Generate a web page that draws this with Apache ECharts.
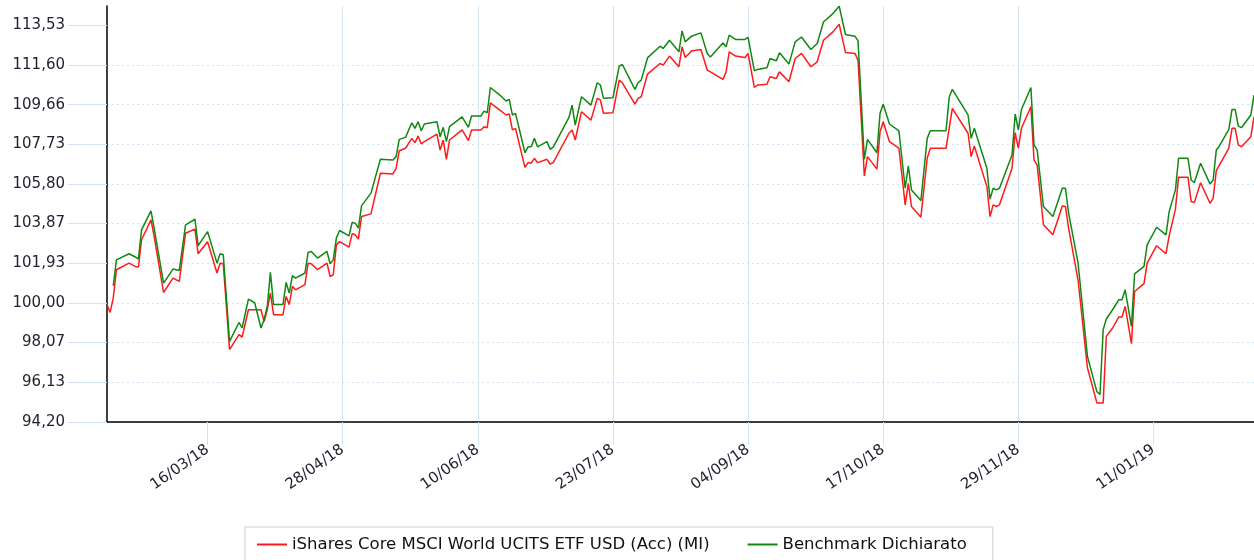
<!DOCTYPE html>
<html>
<head>
<meta charset="utf-8">
<script src="https://cdn.jsdelivr.net/npm/echarts@6/dist/echarts.min.js"></script>
<style>
  html, body { margin: 0; padding: 0; background: #fff; }
  #chart { width: 1254px; height: 560px; }
</style>
</head>
<body>
<div id="chart"></div>
<script>
// iShares Core MSCI World vs benchmark, base 100
const DATES = [
  '2018-02-12','2018-02-13','2018-02-14','2018-02-15','2018-02-19','2018-02-21','2018-02-22','2018-02-23',
  '2018-02-26','2018-02-27','2018-03-02','2018-03-05','2018-03-07','2018-03-09','2018-03-12','2018-03-13',
  '2018-03-16','2018-03-19','2018-03-20','2018-03-21','2018-03-23','2018-03-26','2018-03-27','2018-03-29',
  '2018-03-31','2018-04-02','2018-04-03','2018-04-04','2018-04-05','2018-04-06','2018-04-09','2018-04-10',
  '2018-04-11','2018-04-12','2018-04-13','2018-04-16','2018-04-17','2018-04-18','2018-04-20','2018-04-23',
  '2018-04-24','2018-04-25','2018-04-26','2018-04-27','2018-04-30','2018-05-01','2018-05-02','2018-05-03',
  '2018-05-04','2018-05-07','2018-05-10','2018-05-14','2018-05-15','2018-05-16','2018-05-18','2018-05-20',
  '2018-05-21','2018-05-22','2018-05-23','2018-05-24','2018-05-28','2018-05-29','2018-05-30','2018-05-31',
  '2018-06-01','2018-06-05','2018-06-07','2018-06-08','2018-06-11','2018-06-12','2018-06-13','2018-06-14',
  '2018-06-17','2018-06-19','2018-06-20','2018-06-21','2018-06-22','2018-06-25','2018-06-26','2018-06-27',
  '2018-06-28','2018-06-29','2018-07-02','2018-07-03','2018-07-04','2018-07-09','2018-07-10','2018-07-11',
  '2018-07-13','2018-07-16','2018-07-18','2018-07-19','2018-07-20','2018-07-23','2018-07-25','2018-07-26',
  '2018-07-30','2018-07-31','2018-08-01','2018-08-03','2018-08-07','2018-08-08','2018-08-10','2018-08-13',
  '2018-08-14','2018-08-15','2018-08-17','2018-08-20','2018-08-22','2018-08-23','2018-08-27','2018-08-28',
  '2018-08-29','2018-08-31','2018-09-03','2018-09-04','2018-09-06','2018-09-07','2018-09-10','2018-09-11',
  '2018-09-13','2018-09-14','2018-09-17','2018-09-19','2018-09-21','2018-09-24','2018-09-26','2018-09-28',
  '2018-10-01','2018-10-03','2018-10-05','2018-10-08','2018-10-09','2018-10-11','2018-10-12','2018-10-15',
  '2018-10-16','2018-10-17','2018-10-19','2018-10-22','2018-10-24','2018-10-25','2018-10-26','2018-10-29',
  '2018-10-31','2018-11-01','2018-11-06','2018-11-07','2018-11-08','2018-11-13','2018-11-14','2018-11-15',
  '2018-11-19','2018-11-20','2018-11-21','2018-11-22','2018-11-23','2018-11-27','2018-11-28','2018-11-29',
  '2018-11-30','2018-12-03','2018-12-04','2018-12-05','2018-12-07','2018-12-10','2018-12-13','2018-12-14',
  '2018-12-15','2018-12-18','2018-12-21','2018-12-24','2018-12-25','2018-12-26','2018-12-27','2018-12-29',
  '2018-12-31','2019-01-01','2019-01-02','2019-01-04','2019-01-05','2019-01-08','2019-01-09','2019-01-12',
  '2019-01-15','2019-01-16','2019-01-18','2019-01-19','2019-01-22','2019-01-23','2019-01-24','2019-01-26',
  '2019-01-29','2019-01-30','2019-01-31','2019-02-01','2019-02-04','2019-02-05','2019-02-06','2019-02-07',
  '2019-02-08','2019-02-11','2019-02-12'
];

const FUND = [
  99.92, 99.54, 100.26, 101.62, 101.94, 101.78, 101.75, 103.08,
  104.05, 103.24, 100.51, 101.21, 101.05, 103.40, 103.60, 102.40,
  102.98, 101.46, 101.94, 101.91, 97.73, 98.46, 98.34, 99.67,
  99.67, 99.67, 99.10, 99.67, 100.48, 99.43, 99.43, 100.32,
  99.92, 100.81, 100.64, 100.89, 101.94, 101.91, 101.62, 101.94,
  101.29, 101.37, 102.83, 102.99, 102.72, 103.37, 103.32, 103.11,
  104.21, 104.34, 106.32, 106.29, 106.56, 107.42, 107.54, 108.02,
  107.81, 108.13, 107.75, 107.86, 108.23, 107.45, 107.94, 107.00,
  107.94, 108.43, 107.91, 108.43, 108.43, 108.59, 108.54, 109.75,
  109.40, 109.16, 109.21, 108.43, 108.51, 106.61, 106.84, 106.81,
  107.05, 106.84, 107.00, 106.77, 106.84, 108.27, 108.43, 107.94,
  109.32, 108.91, 109.97, 109.89, 109.24, 109.27, 110.86, 110.73,
  109.69, 109.97, 110.05, 111.15, 111.67, 111.59, 112.03, 111.51,
  112.48, 111.96, 112.28, 112.35, 111.35, 111.26, 110.89, 111.25,
  112.24, 112.03, 111.96, 112.16, 110.50, 110.62, 110.66, 111.02,
  110.94, 111.26, 110.78, 111.91, 112.16, 111.51, 111.75, 112.80,
  113.21, 113.58, 112.21, 112.16, 111.83, 106.19, 107.13, 106.52,
  108.34, 108.83, 107.86, 107.54, 104.78, 105.83, 104.70, 104.18,
  107.05, 107.54, 107.54, 108.51, 109.48, 108.27, 107.13, 107.65,
  105.67, 104.21, 104.78, 104.70, 104.78, 106.56, 108.30, 107.54,
  108.51, 109.56, 106.97, 106.72, 103.81, 103.32, 104.73, 104.70,
  103.65, 101.13, 96.84, 95.13, 95.13, 95.13, 98.37, 98.78,
  99.32, 99.32, 99.83, 98.02, 100.56, 100.94, 101.94, 102.79,
  102.40, 103.27, 104.57, 106.13, 106.13, 104.94, 104.89, 105.86,
  104.86, 105.10, 106.45, 106.72, 107.54, 108.51, 108.51, 107.70,
  107.61, 108.10, 109.07
];

const BENCH = [
  null, null, 100.84, 102.10, 102.40, 102.24, 102.14, 103.56,
  104.49, 103.65, 100.97, 101.65, 101.58, 103.81, 104.08, 102.79,
  103.48, 101.94, 102.40, 102.35, 98.13, 99.05, 98.78, 100.19,
  100.01, 98.78, 99.20, 99.83, 101.49, 99.92, 99.92, 101.00,
  100.48, 101.33, 101.21, 101.46, 102.46, 102.51, 102.19, 102.51,
  101.91, 102.10, 103.17, 103.53, 103.27, 103.92, 103.89, 103.65,
  104.73, 105.35, 107.00, 106.97, 107.13, 107.97, 108.07, 108.78,
  108.51, 108.83, 108.39, 108.72, 108.83, 108.10, 108.56, 107.86,
  108.59, 109.07, 108.56, 109.11, 109.11, 109.35, 109.27, 110.50,
  110.13, 109.84, 109.92, 109.16, 109.24, 107.32, 107.61, 107.61,
  108.02, 107.61, 107.86, 107.49, 107.59, 109.04, 109.64, 108.67,
  110.05, 109.64, 110.73, 110.62, 109.97, 110.00, 111.54, 111.62,
  110.41, 110.73, 110.86, 111.94, 112.51, 112.40, 112.80, 112.24,
  113.26, 112.72, 113.00, 113.16, 112.16, 111.99, 112.67, 112.48,
  113.05, 112.84, 112.84, 112.94, 111.31, 111.38, 111.46, 111.91,
  111.80, 112.19, 111.64, 112.72, 112.96, 112.35, 112.64, 113.69,
  114.10, 114.46, 113.08, 113.00, 112.77, 107.00, 107.97, 107.32,
  109.24, 109.68, 108.72, 108.39, 105.59, 106.68, 105.51, 104.99,
  108.02, 108.39, 108.39, 110.02, 110.41, 109.16, 108.02, 108.51,
  106.56, 105.06, 105.59, 105.51, 105.59, 107.21, 109.21, 108.43,
  109.43, 110.50, 107.70, 107.45, 104.70, 104.21, 105.59, 105.59,
  104.38, 101.97, 97.40, 95.68, 95.54, 98.70, 99.22, 99.67,
  100.16, 100.16, 100.64, 98.86, 101.42, 101.78, 102.83, 103.69,
  103.32, 104.45, 105.51, 107.05, 107.05, 105.99, 105.86, 106.81,
  105.80, 105.99, 107.45, 107.65, 108.46, 109.43, 109.43, 108.62,
  108.54, 109.16, 110.13
];

const SERIES_NAMES = ['iShares Core MSCI World UCITS ETF USD (Acc) (MI)', 'Benchmark Dichiarato'];
const Y_TICKS = [94.20, 96.13, 98.07, 100.00, 101.93, 103.87, 105.80, 107.73, 109.66, 111.60, 113.53];
const X_TICKS = ['2018-03-16', '2018-04-28', '2018-06-10', '2018-07-23', '2018-09-04', '2018-10-17', '2018-11-29', '2019-01-11'];
const X_MIN = '2018-02-12', X_MAX = '2019-02-12';

const GRID_BLUE = '#d3e3f4';
const pad = n => String(n).padStart(2, '0');
const ts = s => +echarts.time.parse(s);
const fmtDate = v => { const d = new Date(v); return `${pad(d.getDate())}/${pad(d.getMonth() + 1)}/${pad(d.getFullYear() % 100)}`; };
const fmtNum = v => v.toFixed(2).replace('.', ',');

const chart = echarts.init(document.getElementById('chart'), null, { renderer: 'canvas' });
const FONT = 'DejaVu Sans, Verdana, sans-serif';
const axisFont = { fontFamily: FONT, fontSize: 15, color: '#1f1f2e' };

// asse x numerico (timestamp) per poter fissare le etichette ogni 43 giorni
chart.setOption({
  animation: false,
  grid: { left: 107, right: 0, top: 6, bottom: 138 },
  legend: {
    left: 245, top: 527,
    padding: [9, 26, 20, 12],
    borderColor: '#cfcfcf', borderWidth: 1,
    icon: 'rect', itemWidth: 30, itemHeight: 2, itemGap: 38,
    textStyle: { fontFamily: FONT, fontSize: 16.5, color: '#111' },
    data: SERIES_NAMES,
  },
  xAxis: {
    type: 'value', min: ts(X_MIN), max: ts(X_MAX),
    axisLine: { lineStyle: { color: '#000', width: 1.5 } },
    axisTick: { show: true, length: 23, lineStyle: { color: GRID_BLUE, width: 1 },
      customValues: X_TICKS.map(ts) },
    axisLabel: Object.assign({ rotate: 35, margin: 26, customValues: X_TICKS.map(ts),
      formatter: fmtDate }, axisFont),
    splitLine: { show: true, showMinLine: false, showMaxLine: false,
      lineStyle: { color: GRID_BLUE, width: 1 } },
  },
  yAxis: {
    type: 'value', min: 94.2, max: 114.47,
    axisLine: { show: true, lineStyle: { color: '#000', width: 1.5 } },
    axisTick: { show: true, length: 39, lineStyle: { color: GRID_BLUE, width: 1 }, customValues: Y_TICKS },
    axisLabel: Object.assign({ margin: 42, customValues: Y_TICKS, formatter: fmtNum }, axisFont),
    splitLine: { show: true, showMaxLine: false,
      lineStyle: { color: GRID_BLUE, type: [2, 3], width: 1 } },
  },
  series: [
    { name: SERIES_NAMES[0], type: 'line', showSymbol: false,
      data: DATES.map((d, i) => [ts(d), FUND[i]]),
      lineStyle: { color: '#ff1a1a', width: 1.5 }, itemStyle: { color: '#ff1a1a' } },
    { name: SERIES_NAMES[1], type: 'line', showSymbol: false,
      data: DATES.map((d, i) => [ts(d), BENCH[i]]),
      lineStyle: { color: '#118811', width: 1.5 }, itemStyle: { color: '#118811' } },
  ],
});
</script>
</body>
</html>
